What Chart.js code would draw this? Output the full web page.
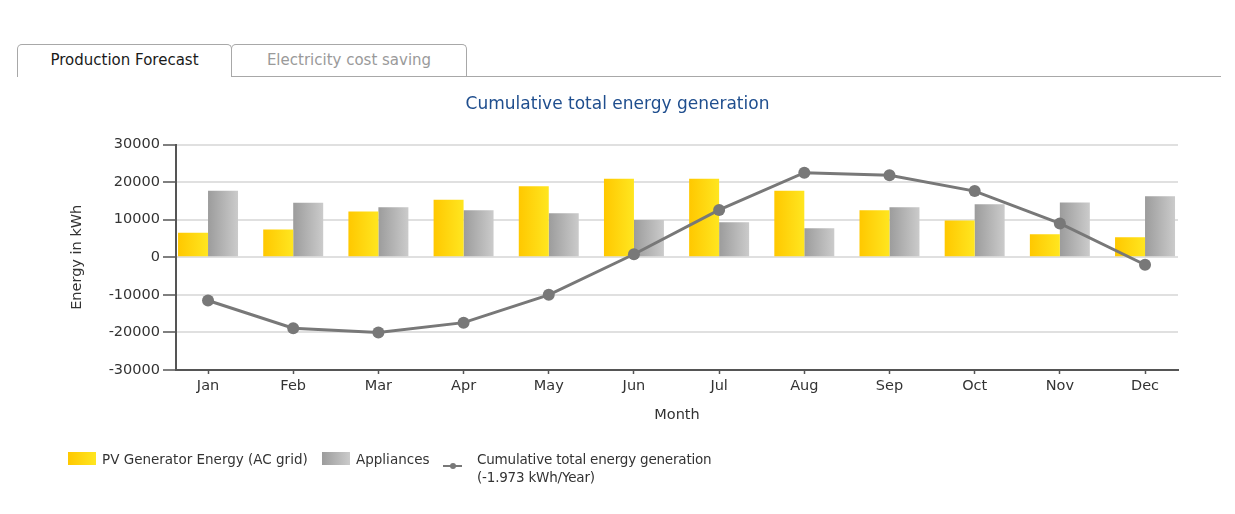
<!DOCTYPE html>
<html>
<head>
<meta charset="utf-8">
<script src="https://cdn.jsdelivr.net/npm/chart.js@4.4.1/dist/chart.umd.min.js"></script>
<style>
  html, body { margin: 0; padding: 0; background: #fff; }
  body { width: 1235px; height: 514px; position: relative; overflow: hidden;
         font-family: "DejaVu Sans", sans-serif; }
  #wrap { position: absolute; left: 0; top: 0; width: 1235px; height: 514px; }
  .tab { position: absolute; top: 44px; height: 31px; border: 1px solid #a8a8a8;
         border-radius: 5px 5px 0 0; background: #fff; font-size: 15px;
         line-height: 30px; text-align: center; box-sizing: content-box; }
  #tab1 { left: 17px; width: 213px; border-bottom: none; height: 32px; color: #1a1a1a; z-index: 2; }
  #tab2 { left: 231px; width: 234px; color: #9a9a9a; border-bottom: none; }
  #baseline { position: absolute; left: 231px; top: 76px; width: 990px; height: 1px; background: #a8a8a8; }
  .leg { position: absolute; font-size: 13.5px; color: #333; line-height: 18px; white-space: nowrap; }
  .box { position: absolute; width: 28px; height: 13px; }
</style>
</head>
<body>
<div id="wrap"><canvas id="c" width="1235" height="514"></canvas></div>
<div id="baseline"></div>
<div class="tab" id="tab1">Production Forecast</div>
<div class="tab" id="tab2">Electricity cost saving</div>

<div class="box" style="left:68px; top:452px; background:linear-gradient(to right,#ffc800,#ffe620);"></div>
<div class="leg" style="left:102px; top:450px;">PV Generator Energy (AC grid)</div>
<div class="box" style="left:322px; top:452px; background:linear-gradient(to right,#9c9c9c,#cbcbcb);"></div>
<div class="leg" style="left:356px; top:450px;">Appliances</div>
<div style="position:absolute; left:443px; top:465px; width:19px; height:2px; background:#787878;"></div>
<div style="position:absolute; left:450px; top:463px; width:6px; height:6px; border-radius:3px; background:#787878;"></div>
<div class="leg" style="left:477px; top:450px; letter-spacing:-0.2px;">Cumulative total energy generation<br>(-1.973 kWh/Year)</div>

<script>
const months = ['Jan','Feb','Mar','Apr','May','Jun','Jul','Aug','Sep','Oct','Nov','Dec'];
const pvEnergy = [6500, 7400, 12200, 15300, 18900, 20900, 20900, 17700, 12500, 9800, 6100, 5300];
const appliances = [17700, 14500, 13300, 12500, 11700, 9900, 9300, 7700, 13300, 14100, 14600, 16200];
const cumulative = [-11500, -18900, -20000, -17400, -10000, 800, 12600, 22500, 21800, 17600, 9000, -2000];
const yTicks = [-30000, -20000, -10000, 0, 10000, 20000, 30000];

const titleText = 'Cumulative total energy generation';
const catPct = 0.704;
const FONT = '"DejaVu Sans", sans-serif';

function gradFill(c0, c1, side) {
  return function (ctx) {
    const chart = ctx.chart;
    const xs = chart.scales && chart.scales.x;
    if (!xs || ctx.type !== 'data' || !isFinite(xs.getPixelForValue(0))) return c0;
    const px = xs.getPixelForValue(ctx.dataIndex);
    const w = (xs.getPixelForValue(1) - xs.getPixelForValue(0)) * catPct / 2;
    const left = side === 0 ? px - w : px;
    const right = left + w;
    const g = chart.ctx.createLinearGradient(left, 0, right, 0);
    g.addColorStop(0, c0);
    g.addColorStop(1, c1);
    return g;
  };
}

const toXY = arr => arr.map((v, i) => ({ x: i, y: v }));

new Chart(document.getElementById('c'), {
  type: 'bar',
  data: {
    datasets: [
      { type: 'bar', label: 'PV Generator Energy (AC grid)', data: toXY(pvEnergy), order: 2,
        backgroundColor: gradFill('#ffc800', '#ffe620', 0), borderWidth: 0,
        categoryPercentage: catPct, barPercentage: 1.0 },
      { type: 'bar', label: 'Appliances', data: toXY(appliances), order: 2,
        backgroundColor: gradFill('#9c9c9c', '#cbcbcb', 1), borderWidth: 0,
        categoryPercentage: catPct, barPercentage: 1.0 },
      { type: 'line', label: 'Cumulative total energy generation', data: toXY(cumulative), order: 1,
        borderColor: '#787878', borderWidth: 3, tension: 0,
        pointRadius: 6, pointBackgroundColor: '#787878', pointBorderWidth: 0, pointHoverRadius: 6 }
    ]
  },
  options: {
    responsive: false,
    animation: false,
    events: [],
    layout: { padding: { left: 28.5, right: 28.5, top: 0, bottom: 84 } },
    plugins: {
      legend: { display: false },
      tooltip: { enabled: false },
      title: {
        display: true, text: titleText, color: '#1f4e8e',
        font: { family: FONT, size: 17, weight: 'normal', lineHeight: 1.2 },
        padding: { top: 94, bottom: 30.1 }
      }
    },
    scales: {
      x: {
        type: 'linear', position: 'bottom',
        min: -0.376, max: 11.387, offset: false,
        afterFit: s => { s.height = 60; },
        afterBuildTicks: s => { s.ticks = months.map((m, i) => ({ value: i })); },
        ticks: { stepSize: 1, includeBounds: false, color: '#333', padding: 4,
                 font: { family: FONT, size: 14.5 }, maxRotation: 0, autoSkip: false,
                 callback: v => months[v] },
        grid: { display: true, offset: false, drawOnChartArea: false, tickLength: 4, tickColor: '#555', tickWidth: 1.5 },
        border: { display: true, color: '#555', width: 2 },
        title: { display: true, text: 'Month', color: '#333',
                 font: { family: FONT, size: 14.5 }, padding: { top: 0, bottom: 6 } }
      },
      y: {
        position: 'left',
        min: -30000, max: 30000,
        afterFit: s => { s.width = 147.5; },
        afterBuildTicks: s => { s.ticks = yTicks.map(v => ({ value: v })); },
        ticks: { stepSize: 10000, color: '#333', padding: 3,
                 font: { family: FONT, size: 14.5 }, callback: v => String(v) },
        grid: { color: '#e0e0e0', lineWidth: 2, tickLength: 13, tickColor: '#555', tickWidth: 1.5 },
        border: { display: true, color: '#555', width: 2 },
        title: { display: true, text: 'Energy in kWh', color: '#333',
                 font: { family: FONT, size: 14.5 }, padding: { top: 40.3, bottom: 0 } }
      },
      yRight: {
        type: 'linear', position: 'right',
        min: -30000, max: 30000,
        afterFit: s => { s.width = 28.5; },
        ticks: { display: false },
        grid: { display: false },
        border: { display: false },
        title: { display: false }
      }
    }
  }
});
</script>
</body>
</html>
